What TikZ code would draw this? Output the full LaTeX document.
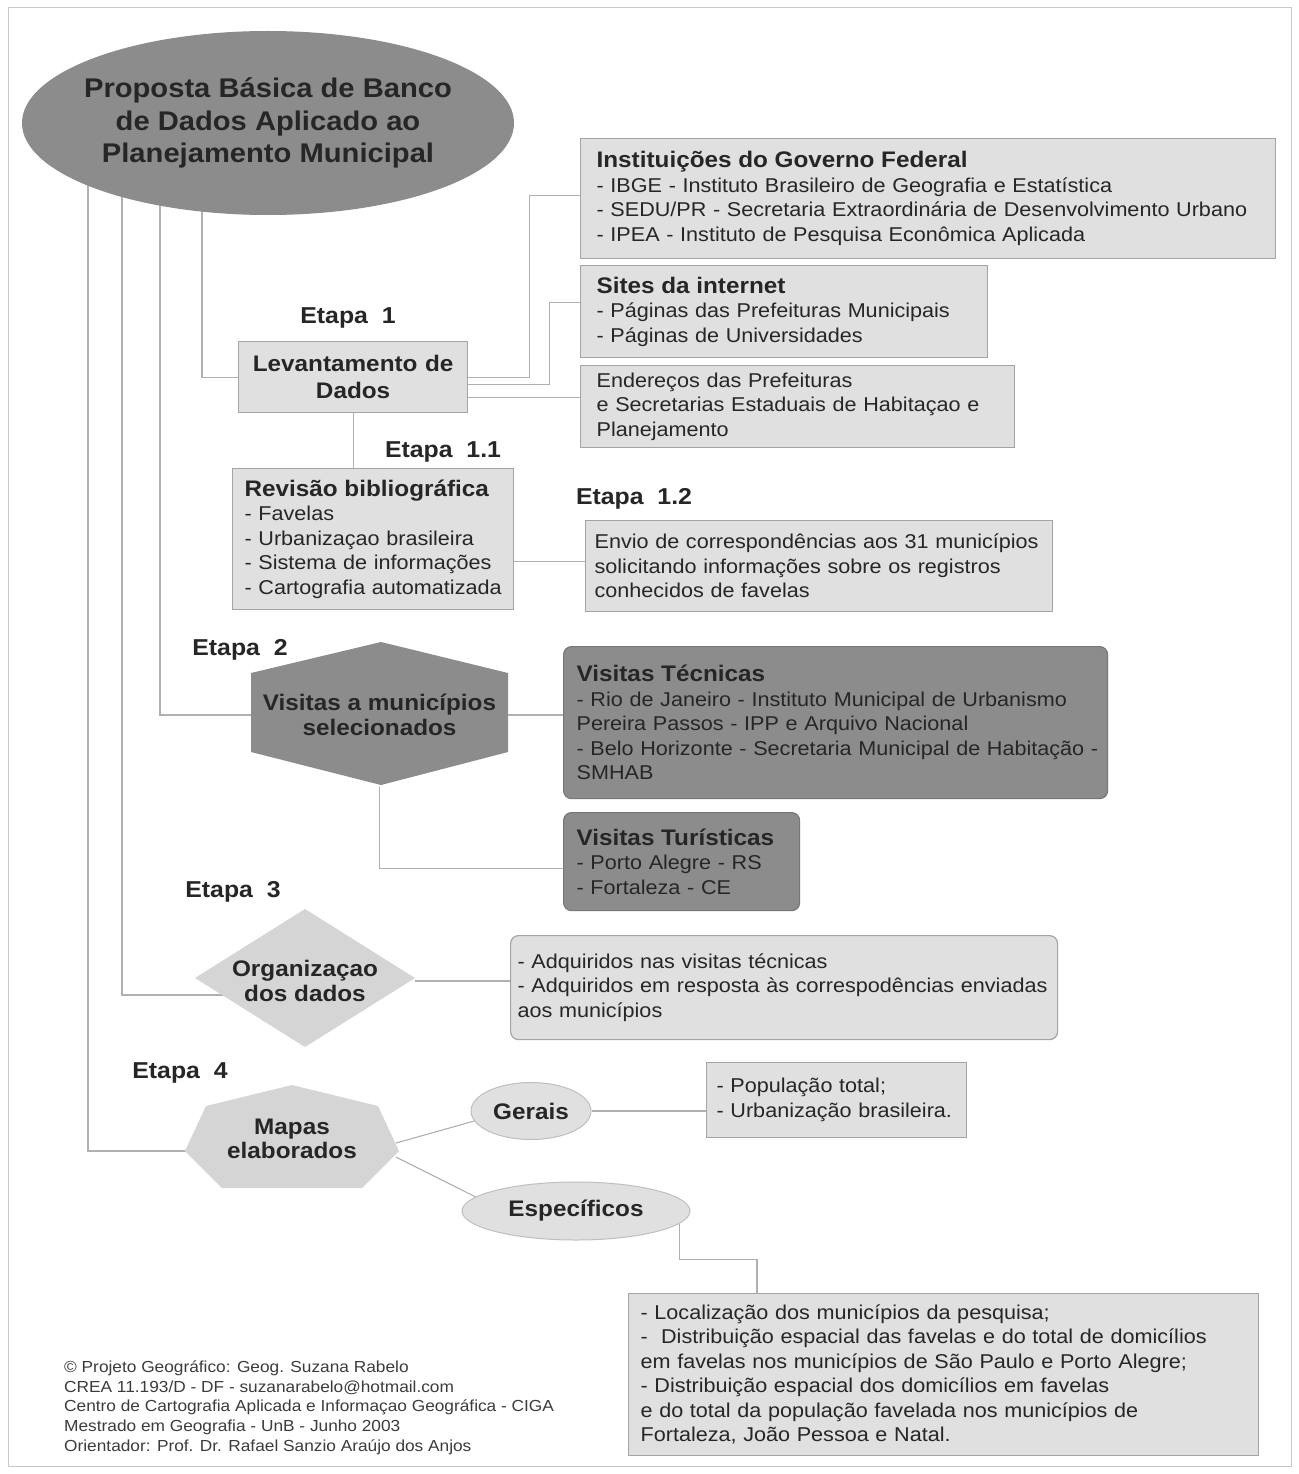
\documentclass[tikz,border=0pt]{standalone}
\usepackage{fontspec}
\setmainfont{Liberation Sans}[FakeStretch=1.08]
\usetikzlibrary{shapes.geometric,calc}
\pgfdeclarelayer{back}
\pgfdeclarelayer{bg}
\pgfsetlayers{back,bg,main}
\definecolor{txt}{HTML}{262626}
\definecolor{lfill}{HTML}{E0E0E0}
\definecolor{dfill}{HTML}{8C8C8C}
\definecolor{edgec}{HTML}{A4A4A4}
\definecolor{wirec}{HTML}{B0B0B0}
\definecolor{framec}{HTML}{C8C8C8}
\newcommand\bodyf{\fontsize{20}{24.5}\selectfont}
\newcommand\headf{\fontsize{22.5}{24.5}\selectfont\bfseries}
\newcommand\levf{\fontsize{22.5}{27}\selectfont\bfseries}
\newcommand\etf{\fontsize{23}{26}\selectfont\bfseries}
\newcommand\ttlf{\fontsize{27}{32.5}\selectfont\bfseries}
\newcommand\footf{\fontsize{16}{19.5}\selectfont}
\newcommand\etsp{\hspace{0.6em}}
\begin{document}
\begin{tikzpicture}[x=1pt,y=-1pt,
  wire/.style={draw=wirec, line width=1.1pt},
  lbox/.style={draw=edgec, fill=lfill, line width=1.2pt, anchor=north west, align=left, text=txt, font=\bodyf, inner ysep=0pt},
  dbox/.style={lbox, fill=dfill, draw=dfill!85!black, rounded corners=8pt},
  etapa/.style={font=\etf, text=txt, inner sep=0pt},
  lbl/.style={font=\headf, text=txt, align=center, inner sep=0pt},
  oval/.style={ellipse, fill=lfill, draw=edgec!70, line width=1pt, font=\headf, text=txt, inner sep=0pt}]
\useasboundingbox (0,0) rectangle (1298,1474);
\begin{pgfonlayer}{back}
\fill[white] (0,0) rectangle (1298,1474);
\draw[framec, line width=1pt] (8,8) rectangle (1291,1466);
\end{pgfonlayer}

% title
\fill[dfill] (268,123) ellipse [x radius=246pt, y radius=92pt];
\node[minimum width=492pt, minimum height=184pt, inner sep=0pt, font=\ttlf, text=txt, align=center] (title) at (268,123) {Proposta Básica de Banco\\de Dados Aplicado ao\\Planejamento Municipal};

% boxes
\node[lbox, minimum width=695pt, minimum height=120pt, inner xsep=16pt, text width=663pt] (gov) at (580,138)
 {{\headf Instituições do Governo Federal}\\- IBGE - Instituto Brasileiro de Geografia e Estatística\\\mbox{- SEDU/PR - Secretaria Extraordinária de Desenvolvimento Urbano}\\- IPEA - Instituto de Pesquisa Econômica Aplicada};
\node[lbox, minimum width=407pt, minimum height=92pt, inner xsep=16pt, text width=375pt] (sites) at (580,265)
 {{\headf Sites da internet}\\- Páginas das Prefeituras Municipais\\- Páginas de Universidades};
\node[lbox, minimum width=434pt, minimum height=82pt, inner xsep=16pt, text width=402pt] (ender) at (580,365)
 {Endereços das Prefeituras\\\mbox{e Secretarias Estaduais de Habitaçao e}\\Planejamento};
\node[lbox, minimum width=229pt, minimum height=71pt, inner xsep=4pt, text width=221pt, align=center, font=\levf] (lev) at (238,341)
 {Levantamento de\\Dados};
\node[lbox, minimum width=281pt, minimum height=141pt, inner xsep=12pt, text width=257pt] (rev) at (232,468)
 {{\headf Revisão bibliográfica}\\- Favelas\\- Urbanizaçao brasileira\\- Sistema de informações\\\mbox{- Cartografia automatizada}};
\node[lbox, minimum width=467pt, minimum height=91pt, inner xsep=9pt, text width=449pt] (envio) at (585,520)
 {\mbox{Envio de correspondências aos 31 municípios}\\solicitando informações sobre os registros\\conhecidos de favelas};
\node[dbox, minimum width=544pt, minimum height=152pt, inner xsep=13pt, text width=518pt] (vtec) at (563,646)
 {{\headf Visitas Técnicas}\\\mbox{- Rio de Janeiro - Instituto Municipal de Urbanismo}\\Pereira Passos - IPP e Arquivo Nacional\\\mbox{- Belo Horizonte - Secretaria Municipal de Habitação -}\\SMHAB};
\node[dbox, minimum width=236pt, minimum height=98pt, inner xsep=13pt, text width=210pt] (vtur) at (563,812)
 {{\headf Visitas Turísticas}\\- Porto Alegre - RS\\- Fortaleza - CE};
\node[lbox, rounded corners=8pt, minimum width=547pt, minimum height=104pt, inner xsep=7pt, text width=533pt] (obox) at (510,935)
 {- Adquiridos nas visitas técnicas\\\mbox{- Adquiridos em resposta às correspodências enviadas}\\aos municípios};
\node[lbox, minimum width=260pt, minimum height=75pt, inner xsep=10pt, text width=240pt] (pop) at (706,1062)
 {- População total;\\\mbox{- Urbanização brasileira.}};
\node[lbox, minimum width=630pt, minimum height=162pt, inner xsep=12pt, text width=606pt] (bot) at (628,1293)
 {- Localização dos municípios da pesquisa;\\\mbox{-\ \ Distribuição espacial das favelas e do total de domicílios}\\em favelas nos municípios de São Paulo e Porto Alegre;\\- Distribuição espacial dos domicílios em favelas\\e do total da população favelada nos municípios de\\Fortaleza, João Pessoa e Natal.};

% hexagon
\fill[dfill] (381,642) -- (508,673) -- (508,752) -- (381,785) -- (251,752) -- (251,673) -- cycle;
\node[lbl, minimum width=257pt, minimum height=143pt] (vis) at (379.5,715) {Visitas a municípios\\selecionados};
% diamond
\fill[lfill!95!black] (305,909) -- (415,978) -- (305,1047) -- (195,978) -- cycle;
\node[lbl, minimum width=220pt, minimum height=138pt] (org) at (305,981) {Organizaçao\\dos dados};
% heptagon
\fill[lfill!95!black] (292,1085) -- (378,1106) -- (399,1151) -- (362,1188) -- (222,1188) -- (185,1151) -- (206,1106) -- cycle;
\node[lbl, minimum width=214pt, minimum height=103pt] (map) at (292,1139) {Mapas\\elaborados};
% ellipses
\node[oval, minimum width=120pt, minimum height=57pt] (ger) at (531,1111) {Gerais};
\node[oval, minimum width=228pt, minimum height=58pt] (esp) at (576,1211) {Específicos};

% etapa labels
\node[etapa] (e1) at (348,318) {Etapa\etsp 1};
\node[etapa] (e11) at (443,452) {Etapa\etsp 1.1};
\node[etapa] (e12) at (634,499) {Etapa\etsp 1.2};
\node[etapa] (e2) at (240,650) {Etapa\etsp 2};
\node[etapa] (e3) at (233,892) {Etapa\etsp 3};
\node[etapa] (e4) at (180,1073) {Etapa\etsp 4};

% footer
\node[anchor=north west, inner sep=0pt, font=\footf, text=txt!90, align=left] (foot) at (64,1361)
 {© Projeto Geográfico: Geog. Suzana Rabelo\\CREA 11.193/D - DF - suzanarabelo@hotmail.com\\Centro de Cartografia Aplicada e Informaçao Geográfica - CIGA\\Mestrado em Geografia - UnB - Junho 2003\\Orientador: Prof. Dr. Rafael Sanzio Araújo dos Anjos};

% helper coordinates
\coordinate (x1) at (88,0);
\coordinate (x2) at (122,0);
\coordinate (x3) at (160,0);
\coordinate (x4) at (202,0);
\coordinate (orgl) at (240,995);
\coordinate (mapl) at (200,1151);
\coordinate (mapr) at (396,1143);
\coordinate (mapr2) at (396,1157);
\coordinate (botk) at (757,1293);
\coordinate (l3) at ($(lev.east)+(0,20)$);
\coordinate (l2) at ($(lev.east)+(0,7)$);

\begin{pgfonlayer}{bg}
\draw[wire] (x4 |- title.center) -- (x4 |- lev.west) -- (lev.west);
\draw[wire] (x3 |- title.center) -- (x3 |- vis.west) -- (vis.west);
\draw[wire] (x2 |- title.center) -- (x2 |- orgl) -- (orgl);
\draw[wire] (x1 |- title.center) -- (x1 |- mapl) -- (mapl);
\end{pgfonlayer}
\draw[wire] (lev.east) -- ++(61,0) |- ($(gov.west)+(0,-3)$);
\draw[wire] (l2) -- ++(81,0) |- ($(sites.west)+(0,-9)$);
\draw[wire] (l3) -- (l3 -| ender.west);
\draw[wire] (lev.south) -- (lev.south |- rev.north);
\draw[wire] ($(envio.west -| rev.east)+(0,-5)$) -- ($(envio.west)+(0,-5)$);
\draw[wire] (vis.east) -- (vis.east -| vtec.west);
\draw[wire] (vis.south) -- ($(vis.south |- vtur.west)+(0,7)$) -- ($(vtur.west)+(0,7)$);
\draw[wire] (org.east) -- (org.east -| obox.west);
\draw[wire] (mapr) -- (ger.190);
\draw[wire] (mapr2) -- (esp.172);
\draw[wire] (ger.east) -- (ger.east -| pop.west);
\draw[wire] (esp.-7) -- ++(0,36) -| (botk);
\end{tikzpicture}
\end{document}
